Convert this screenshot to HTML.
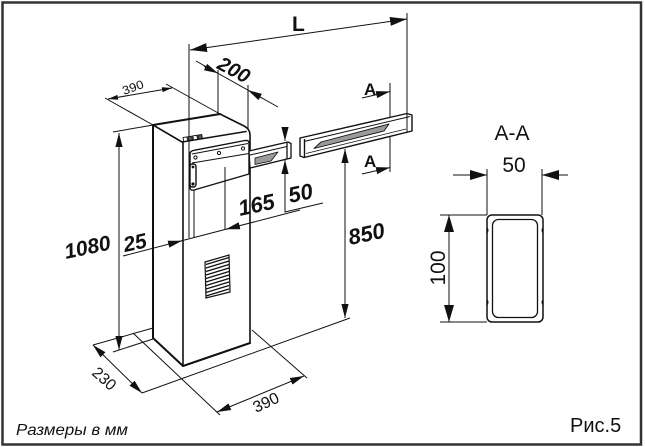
<!DOCTYPE html>
<html><head><meta charset="utf-8">
<style>
html,body{margin:0;padding:0;background:#fff;}
svg{display:block;}
text{font-family:"Liberation Sans",Arial,sans-serif;fill:#111;}
.b{font-weight:bold;font-style:italic;}
</style></head><body>
<svg width="645" height="447" viewBox="0 0 645 447" xmlns="http://www.w3.org/2000/svg">
<defs>
<marker id="m" markerUnits="userSpaceOnUse" markerWidth="14" markerHeight="8" refX="14" refY="4" orient="auto-start-reverse"><path d="M0,0.4 L14,4 L0,7.6 z" fill="#111"/></marker>
<marker id="ml" markerUnits="userSpaceOnUse" markerWidth="17" markerHeight="9" refX="17" refY="4.5" orient="auto-start-reverse"><path d="M0,0 L17,4.5 L0,9 z" fill="#111"/></marker>
<marker id="ms" markerUnits="userSpaceOnUse" markerWidth="10" markerHeight="5" refX="10" refY="2.5" orient="auto-start-reverse"><path d="M0,0 L10,2.5 L0,5 z" fill="#111"/></marker>
<marker id="mb" markerUnits="userSpaceOnUse" markerWidth="17" markerHeight="10" refX="17" refY="5" orient="auto-start-reverse"><path d="M0,0 L17,5 L0,10 z" fill="#111"/></marker>
</defs>

<!-- frame -->
<rect x="2.5" y="2.5" width="638.5" height="442" fill="none" stroke="#333" stroke-width="2.5"/>

<!-- dimension / extension lines -->
<g stroke="#111" stroke-width="1" fill="none">
  <!-- L -->
  <path d="M190,50 L407,19" marker-start="url(#ml)" marker-end="url(#ml)"/>
  <path d="M189,44 V238"/>
  <path d="M407,13 V114"/>
  <!-- 200 -->
  <path d="M196,61 L278,107"/>
  <path d="M204,66.3 L218,73.3" marker-end="url(#m)"/>
  <path d="M262,98 L248,90.2" marker-end="url(#m)"/>
  <path d="M218,70 V114"/>
  <path d="M248,85 V130"/>
  <!-- 390 top -->
  <path d="M108,99 L172,88" marker-start="url(#ms)" marker-end="url(#ms)"/>
  <path d="M105,98 L153,125"/>
  <path d="M166,84 L220,114"/>
  <!-- 1080 -->
  <path d="M119,133 V350" marker-start="url(#m)" marker-end="url(#m)"/>
  <path d="M113,132 L153,125"/>
  <path d="M113,352 L153,339"/>
  <!-- 25 / 165 -->
  <path d="M123,256 L300,210"/>
  <path d="M168,244.3 L182,240.7" marker-end="url(#m)"/>
  <path d="M240,225.6 L226,229.2" marker-end="url(#m)"/>
  <path d="M194,186 V238"/>
  <!-- small 50 -->
  <path d="M285,127 L285,141" marker-end="url(#m)"/>
  <path d="M285,175 L285,160" marker-end="url(#m)"/>
  <path d="M285,160 V212 L323,203"/>
  <!-- A -->
  <path d="M362,98 L390,91.5" marker-end="url(#m)"/>
  <path d="M362,174 L390,167.5" marker-end="url(#m)"/>
  <path d="M390,83 V172"/>
  <!-- 850 -->
  <path d="M345,149 V318" marker-start="url(#m)" marker-end="url(#m)"/>
  <!-- bottom -->
  <path d="M142,393 L350,318"/>
  <path d="M93,345 L153,328"/>
  <path d="M133,333 L220,415"/>
  <path d="M252,330 L307,378"/>
  <path d="M93,345 L142,393" marker-start="url(#m)" marker-end="url(#m)"/>
  <path d="M217,412 L304,376" marker-start="url(#m)" marker-end="url(#m)"/>
</g>

<!-- pillar -->
<g stroke="#111" stroke-width="1.6" fill="none" stroke-linejoin="round" stroke-linecap="round">
  <path d="M153,125 L220,114" stroke-width="2"/>
  <path d="M220,114 L244,126 Q250,129 250,135 L250,343"/>
  <path d="M153,125 L182,142 L246,131.5"/>
  <path d="M153,125 V338 L183,366 L250,343" stroke-width="2"/>
  <path d="M183,142 V366"/>
</g>
<!-- vent marks on top -->
<g transform="translate(183,137.5) rotate(-9)" stroke="#111" stroke-width="0.9" fill="#fff">
  <rect x="0" y="0" width="4" height="4"/>
  <rect x="5" y="0" width="4" height="4" fill="#555"/>
  <rect x="10" y="0" width="4" height="4"/>
  <rect x="15" y="0" width="4" height="4" fill="#555"/>
</g>

<!-- panel -->
<g stroke="#111" stroke-width="1.4" fill="none" stroke-linejoin="round">
  <path d="M190,154 Q190,151 194,150.3 L245,140.5 Q249,140 249,143 L249,174 L194,190 Q190,191 190,187 Z" fill="#fff"/>
  <path d="M192,154 L248,143.5" stroke-width="1"/>
  <path d="M192,163 L249,153.5" stroke-width="1"/>
  <circle cx="195.5" cy="157.5" r="1.6" stroke-width="1"/>
  <circle cx="219" cy="153" r="1.6" stroke-width="1"/>
  <circle cx="243" cy="148.5" r="1.6" stroke-width="1"/>
  <rect x="190" y="164" width="6" height="23" rx="2.5" fill="#fff"/>
  <circle cx="193" cy="167" r="1.4" fill="#111" stroke="none"/>
  <circle cx="193" cy="184" r="1.6" fill="#111" stroke="none"/>
  <path d="M225,167 V229" stroke-width="1"/>
</g>

<!-- boom stub -->
<g stroke="#111" stroke-width="1.3" fill="none" stroke-linejoin="round">
  <path d="M249,151 L288,142 L291,143.5 L291,158 L250,168 Z" fill="#fff"/>
  <path d="M255,158 L278,152 L271,161 L255,164.5 Z" fill="#9a9a9a" stroke-width="0.8"/>
  <path d="M250,155 L287,146.5" stroke-width="1"/>
  <path d="M287,142.5 V159"/>
</g>

<!-- boom -->
<g stroke="#111" stroke-width="1.4" fill="none" stroke-linejoin="round">
  <path d="M300,138 L407,113.5 L412,115 L412,131 L304,157.5 L300,156 Z" fill="#fff"/>
  <path d="M304.5,139 V157"/>
  <path d="M304,141.5 L410,116.5" stroke-width="1"/>
  <path d="M407,114 V132" stroke-width="1"/>
  <path d="M314,148.5 L321,142 L389,124 L384,131 Z" fill="#9a9a9a" stroke-width="0.9"/>
  <path d="M306,153.5 L406,129" stroke-width="0.8"/>
</g>

<!-- grille -->
<g stroke="#111" fill="none">
  <path d="M205,262 L229,255 L230,292 L206,298 Z" stroke-width="1.2"/>
  <g stroke-width="1.3">
    <path d="M206,264.5 L229,257.5"/>
    <path d="M206,268 L229,261"/>
    <path d="M206,271.5 L229,264.5"/>
    <path d="M206,275 L229,268"/>
    <path d="M206,278.5 L229,271.5"/>
    <path d="M206,282 L229,275"/>
    <path d="M206,285.5 L229,278.5"/>
    <path d="M206,289 L229,282"/>
    <path d="M206,292.5 L229,285.5"/>
    <path d="M206,296 L229,289"/>
  </g>
</g>

<!-- A-A section -->
<g stroke="#111" fill="none">
  <path d="M453,175 L487,175" stroke-width="1" marker-end="url(#mb)"/>
  <path d="M568,175 L542,175" stroke-width="1" marker-end="url(#mb)"/>
  <path d="M487,169 V215 M542,169 V215" stroke-width="1"/>
  <path d="M449,215 V322" stroke-width="1" marker-start="url(#mb)" marker-end="url(#mb)"/>
  <path d="M440,215 H487 M440,322 H487" stroke-width="1"/>
  <rect x="487" y="215" width="56" height="107" rx="5" stroke-width="1.5"/>
  <rect x="492.5" y="219.5" width="45" height="98" rx="6" stroke-width="1.3"/>
  <path d="M487,228 q2,2 0,5 M487,300 q2,2 0,5 M543,228 q-2,2 0,5 M543,300 q-2,2 0,5" stroke-width="1"/>
</g>

<!-- texts -->
<text x="292" y="31" font-size="21" font-weight="bold">L</text>
<text class="b" font-size="20" transform="translate(216,68) rotate(28)">200</text>
<text font-size="12" transform="translate(124,95) rotate(-20)" textLength="22" lengthAdjust="spacingAndGlyphs">390</text>
<text class="b" font-size="21" transform="translate(66,259) rotate(-12)">1080</text>
<text class="b" font-size="21" transform="translate(125,252) rotate(-12)">25</text>
<text class="b" font-size="22" transform="translate(240,216) rotate(-12)">165</text>
<text class="b" font-size="22" transform="translate(290,203) rotate(-12)">50</text>
<text class="b" font-size="22" transform="translate(350,245) rotate(-12)">850</text>
<text x="364" y="95" font-size="17" font-weight="bold">A</text>
<text x="364" y="167" font-size="17" font-weight="bold">A</text>
<text x="512" y="140" font-size="21" text-anchor="middle">A-A</text>
<text x="514" y="172" font-size="21" text-anchor="middle">50</text>
<text font-size="21" text-anchor="middle" transform="translate(445,268) rotate(-90)">100</text>
<text font-size="16" transform="translate(91,374) rotate(42)" textLength="26" lengthAdjust="spacingAndGlyphs">230</text>
<text font-size="16" transform="translate(256,413) rotate(-25)" textLength="27" lengthAdjust="spacingAndGlyphs">390</text>
<text x="16" y="435" font-size="16" font-style="italic" textLength="112" lengthAdjust="spacingAndGlyphs">Размеры в мм</text>
<text x="570" y="432" font-size="20">Рис.5</text>
</svg>
</body></html>
